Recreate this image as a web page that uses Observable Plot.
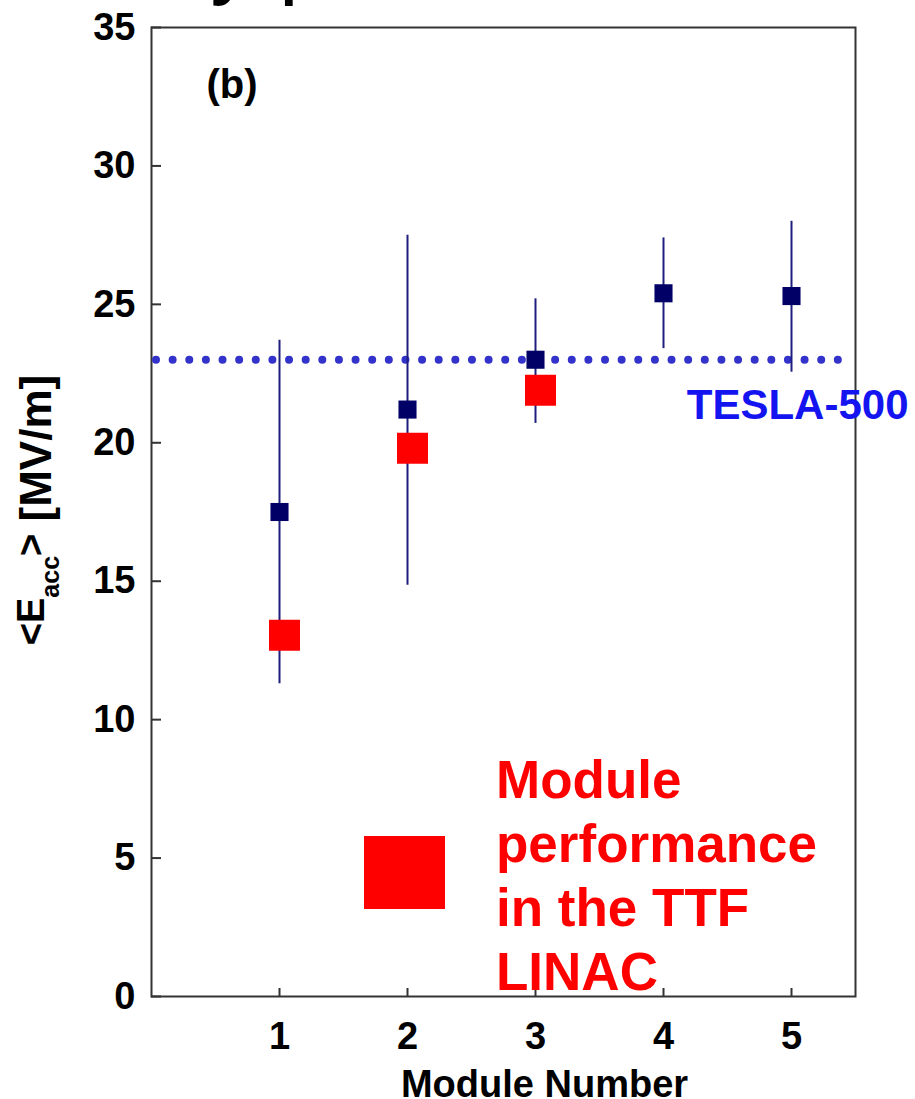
<!DOCTYPE html>
<html>
<head>
<meta charset="utf-8">
<script src="https://cdn.jsdelivr.net/npm/d3@7"></script>
<script src="https://cdn.jsdelivr.net/npm/@observablehq/plot@0.6"></script>
<style>
  html, body { margin: 0; padding: 0; background: #fff; }
  #wrap { position: relative; width: 915px; height: 1099px; overflow: hidden; }
  #title { position: absolute; left: 10px; top: -86px; font: 88px/1 "Liberation Sans", Arial, sans-serif;
           white-space: nowrap; color: #000; }
  #legend-swatch { position: absolute; left: 364px; top: 836px; width: 81px; height: 73px; background: #ff0000; }
  #legend-text { position: absolute; left: 496px; top: 748px; font: bold 53px/64px "Liberation Sans", Arial, sans-serif;
                 color: #ff0000; white-space: nowrap; }
</style>
</head>
<body>
<div id="wrap">
  <div id="chart"></div>
  <div id="title">Cavity performance</div>
  <div id="legend-swatch"></div>
  <div id="legend-text">Module<br>performance<br>in the TTF<br>LINAC</div>
</div>
<script>
// Average accelerating gradient per module (vertical-test cavities), with spread
const modules = [1, 2, 3, 4, 5];
const cavityMean = [17.5, 21.2, 23.0, 25.4, 25.3];
const cavityLow = [11.3, 14.85, 20.7, 23.4, 22.55];
const cavityHigh = [23.7, 27.5, 25.2, 27.4, 28.0];

// Module performance measured in the TTF LINAC
const linacModules = [1, 2, 3];
const linacValues = [13.05, 19.8, 21.9];

// TESLA-500 design gradient
const teslaGoal = [23];
const teslaLabel = ["TESLA-500"];

// Axis ticks
const xTicks = [1, 2, 3, 4, 5];
const yTicks = [0, 5, 10, 15, 20, 25, 30, 35];
const xLabel = "Module Number";
const yLabel = "<Eacc> [MV/m]";
const panelLabel = "(b)";

const cavities = modules.map((m, i) => ({module: m, mean: cavityMean[i], low: cavityLow[i], high: cavityHigh[i]}));
const linac = linacModules.map((m, i) => ({module: m, value: linacValues[i]}));

const font = "'Liberation Sans', Arial, Helvetica, sans-serif";

const chart = Plot.plot({
  width: 915,
  height: 1099,
  marginLeft: 151,
  marginRight: 60,
  marginTop: 27,
  marginBottom: 103,
  x: {domain: [0, 5.5]},
  y: {domain: [0, 35]},
  style: {fontFamily: font, fontSize: "38px", fontWeight: "bold", color: "#000", background: "transparent"},
  marks: [
    Plot.axisY(yTicks, {anchor: "left", tickSize: -10, tickPadding: 26, tickFormat: "d", label: null, stroke: "#333", strokeWidth: 2}),
    Plot.axisX(xTicks, {anchor: "bottom", tickSize: -8, tickPadding: 34, tickFormat: "d", label: null, stroke: "#333", strokeWidth: 2}),
    Plot.frame({stroke: "#333", strokeWidth: 2}),
    // design goal line
    Plot.ruleY(teslaGoal, {
      stroke: "#3333cc", strokeWidth: 8, strokeLinecap: "round",
      strokeDasharray: "0 16.63", insetLeft: 5, insetRight: 17
    }),
    Plot.text(teslaLabel.map(t => ({t, y: teslaGoal[0]})), {
      y: "y", text: "t", frameAnchor: "right", textAnchor: "end", lineAnchor: "bottom",
      dx: 53, dy: 59, fill: "#1414f0", fontSize: 42, fontWeight: "bold"
    }),
    // cavity spread
    Plot.ruleX(cavities, {x: "module", y1: "low", y2: "high", stroke: "#1e1e7e", strokeWidth: 2}),
    Plot.dot(cavities, {x: "module", y: "mean", symbol: "square", r: 10.2, fill: "#000066"}),
    // LINAC measurements
    Plot.dot(linac, {x: "module", y: "value", symbol: "square", r: 17.5, fill: "#ff0000", dx: 5}),
    // panel label and axis titles
    Plot.text([panelLabel], {frameAnchor: "top-left", textAnchor: "start", lineAnchor: "bottom",
      dx: 55, dy: 70, fontSize: 40, fontWeight: "bold"}),
    Plot.text([xLabel], {frameAnchor: "bottom", lineAnchor: "bottom", dx: 41, dy: 100,
      fontSize: 38, fontWeight: "bold"}),
    Plot.text([yLabel], {frameAnchor: "left", rotate: -90, lineAnchor: "bottom", textAnchor: "middle",
      dx: -108, dy: -2, fontSize: 38, fontWeight: "bold"})
  ]
});

document.getElementById("chart").appendChild(chart);

// Typeset the y-axis title with a subscript and a larger unit
d3.select(chart).selectAll("text")
  .filter(function() { return this.textContent === yLabel; })
  .each(function() {
    const t = d3.select(this);
    t.text(null);
    t.append("tspan").attr("font-size", 38).text("<E");
    t.append("tspan").attr("font-size", 25).attr("dy", 15).text("acc");
    t.append("tspan").attr("font-size", 38).attr("dy", -15).text(">");
    t.append("tspan").attr("font-size", 44).attr("dy", 7).text("\u00a0[MV/m]");
  });
</script>
</body>
</html>
